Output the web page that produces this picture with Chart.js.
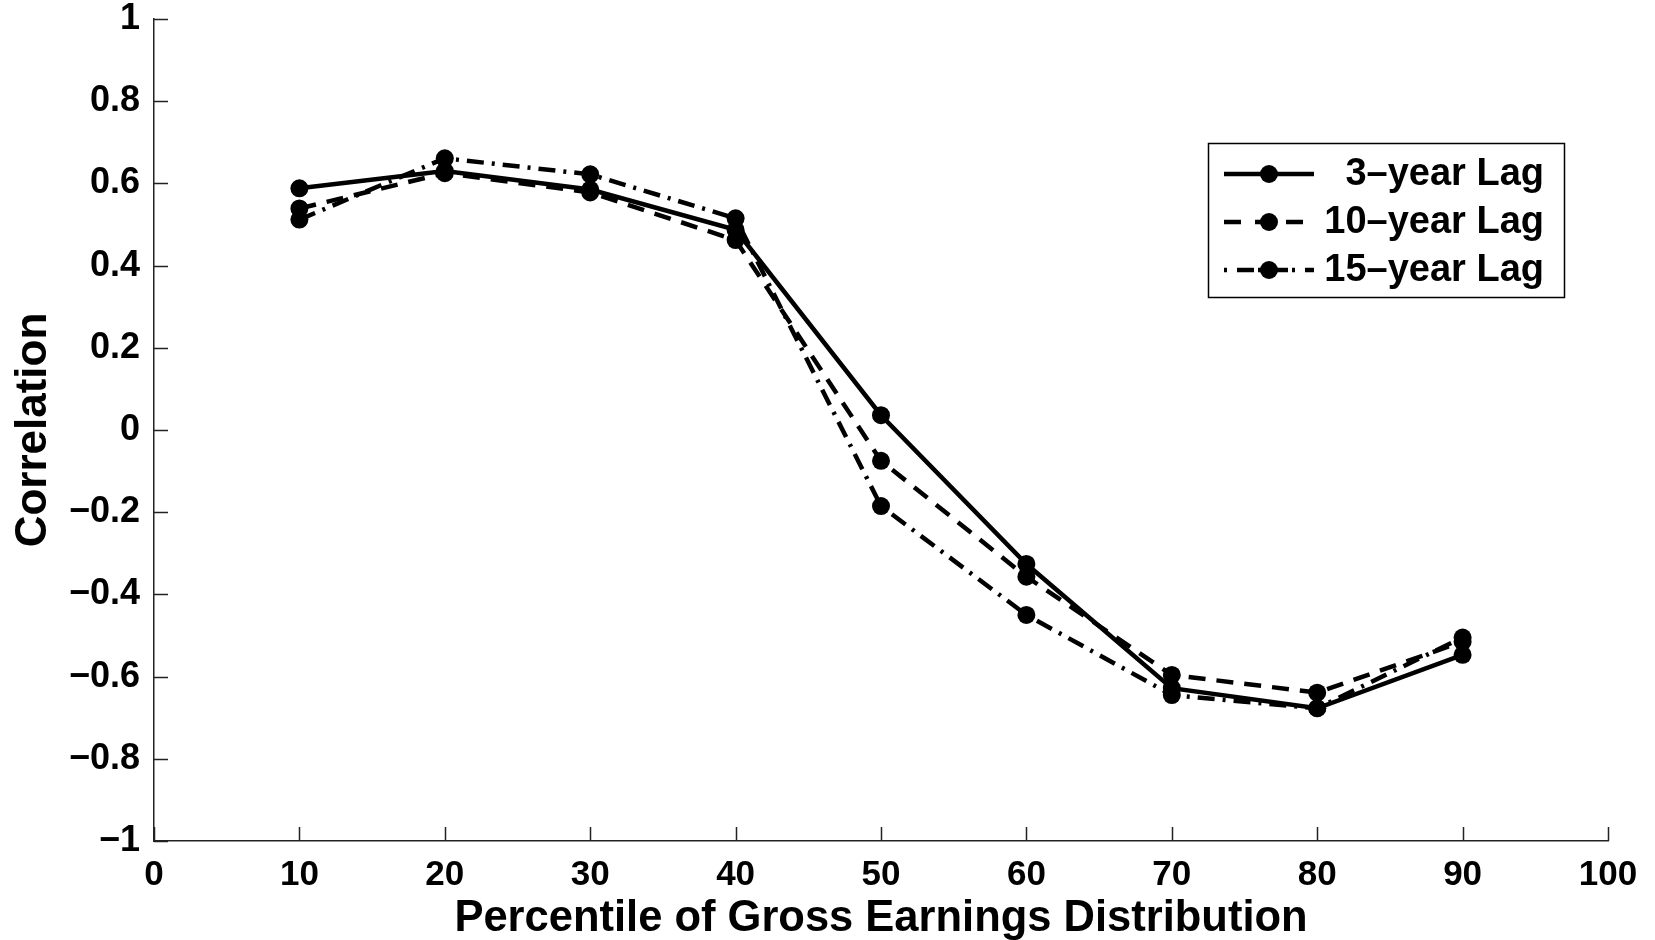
<!DOCTYPE html>
<html>
<head>
<meta charset="utf-8">
<script src="https://cdn.jsdelivr.net/npm/chart.js@4/dist/chart.umd.min.js"></script>
<style>
html,body{margin:0;padding:0;background:#fff;}
#wrap{width:1655px;height:940px;position:relative;}
</style>
</head>
<body>
<div id="wrap"><canvas id="c" width="1655" height="940"></canvas></div>
<script>
const percentiles = [10, 20, 30, 40, 50, 60, 70, 80, 90];
const lag3  = [0.588, 0.630, 0.585, 0.487, 0.036, -0.326, -0.628, -0.677, -0.547];
const lag10 = [0.539, 0.625, 0.578, 0.462, -0.075, -0.357, -0.596, -0.639, -0.515];
const lag15 = [0.512, 0.661, 0.622, 0.515, -0.185, -0.450, -0.645, -0.677, -0.505];
const seriesNames = ['3\u2013year Lag', '10\u2013year Lag', '15\u2013year Lag'];
const xTickValues = [0, 10, 20, 30, 40, 50, 60, 70, 80, 90, 100];
const yTickLabels = ['\u22121', '\u22120.8', '\u22120.6', '\u22120.4', '\u22120.2', '0', '0.2', '0.4', '0.6', '0.8', '1'];
const xTitle = 'Percentile of Gross Earnings Distribution';
const yTitle = 'Correlation';

const FONT = '"Liberation Sans", Arial, Helvetica, sans-serif';
const dashes = [[], [17, 11], [17, 8, 3, 8]];

function pts(arr){ return percentiles.map((p, i) => ({x: p, y: arr[i]})); }
const seriesData = [lag3, lag10, lag15];

const datasets = seriesData.map((arr, i) => ({
  label: seriesNames[i],
  data: pts(arr),
  borderColor: '#000',
  backgroundColor: '#000',
  borderWidth: 4.5,
  borderDash: dashes[i],
  pointRadius: 9,
  pointHoverRadius: 9,
  pointBackgroundColor: '#000',
  pointBorderColor: '#000',
  pointBorderWidth: 0,
  tension: 0,
  fill: false,
  clip: false,
  order: 3 - i
}));

const innerTicks = {
  id: 'innerTicks',
  afterDatasetsDraw(chart){
    const ctx = chart.ctx;
    const xs = chart.scales.x, ys = chart.scales.y;
    const a = chart.chartArea;
    ctx.save();
    ctx.strokeStyle = '#222';
    ctx.lineWidth = 1.5;
    ctx.beginPath();
    xTickValues.forEach(v => {
      const px = Math.round(xs.getPixelForValue(v)) + 0.5;
      ctx.moveTo(px, a.bottom);
      ctx.lineTo(px, a.bottom - 14);
    });
    for (let k = 0; k < yTickLabels.length; k++) {
      const v = -1 + 0.2 * k;
      const py = Math.round(ys.getPixelForValue(v)) + 0.5;
      ctx.moveTo(a.left, py);
      ctx.lineTo(a.left + 14, py);
    }
    ctx.stroke();
    ctx.restore();
  }
};

const customLegend = {
  id: 'customLegend',
  afterDraw(chart){
    const ctx = chart.ctx;
    const bx = 1208, by = 143, bw = 356, bh = 154;
    ctx.save();
    ctx.fillStyle = '#fff';
    ctx.fillRect(bx, by, bw, bh);
    ctx.strokeStyle = '#000';
    ctx.lineWidth = 1.5;
    ctx.strokeRect(bx + 0.5, by + 0.5, bw, bh);
    const rows = [174, 222, 270];
    const legDash = [[], [17, 14], [3, 10, 17, 4]];
    chart.data.datasets.forEach((ds, i) => {
      const y = rows[i];
      ctx.strokeStyle = '#000';
      ctx.lineWidth = 4.5;
      ctx.setLineDash(legDash[i]);
      ctx.beginPath();
      ctx.moveTo(1224, y);
      ctx.lineTo(1314, y);
      ctx.stroke();
      ctx.setLineDash([]);
      ctx.beginPath();
      ctx.arc(1269, y, 9, 0, Math.PI * 2);
      ctx.fillStyle = '#000';
      ctx.fill();
      ctx.font = 'bold 38px ' + FONT;
      ctx.textAlign = 'right';
      ctx.textBaseline = 'middle';
      ctx.fillText(ds.label, 1544, y + 1);
    });
    ctx.restore();
  }
};

new Chart(document.getElementById('c'), {
  type: 'line',
  data: { datasets },
  options: {
    responsive: false,
    animation: false,
    devicePixelRatio: 1,
    layout: { padding: { top: 19, right: 47, left: 0, bottom: 0 } },
    plugins: {
      legend: { display: false },
      tooltip: { enabled: false }
    },
    scales: {
      x: {
        type: 'linear',
        min: 0, max: 100,
        afterFit(s){ s.height = 99; s.paddingLeft = 0; s.paddingRight = 0; },
        afterBuildTicks(s){ s.ticks = xTickValues.map(v => ({value: v})); },
        grid: { display: true, drawOnChartArea: false, drawTicks: false },
        border: { display: true, color: '#222', width: 1.5 },
        ticks: {
          color: '#000',
          padding: 13,
          maxRotation: 0,
          autoSkip: false,
          font: { family: FONT, size: 35, weight: 'bold' },
          callback: v => String(v)
        },
        title: {
          display: true,
          text: xTitle,
          color: '#000',
          padding: { top: -4, bottom: -5 },
          font: { family: FONT, size: 43.5, weight: 'bold' }
        }
      },
      y: {
        type: 'linear',
        min: -1, max: 1,
        afterFit(s){ s.width = 154; s.paddingTop = 0; s.paddingBottom = 0; },
        afterBuildTicks(s){ s.ticks = yTickLabels.map((l, k) => ({value: -1 + 0.2 * k})); },
        grid: { display: true, drawOnChartArea: false, drawTicks: false },
        border: { display: true, color: '#222', width: 1.5 },
        ticks: {
          color: '#000',
          padding: 14,
          autoSkip: false,
          font: { family: FONT, size: 36, weight: 'bold' },
          callback: (v, idx) => yTickLabels[Math.round((v + 1) / 0.2)]
        },
        title: {
          display: true,
          text: yTitle,
          color: '#000',
          padding: { top: 7, bottom: 0 },
          font: { family: FONT, size: 44, weight: 'bold' }
        }
      }
    }
  },
  plugins: [innerTicks, customLegend]
});
</script>
</body>
</html>
